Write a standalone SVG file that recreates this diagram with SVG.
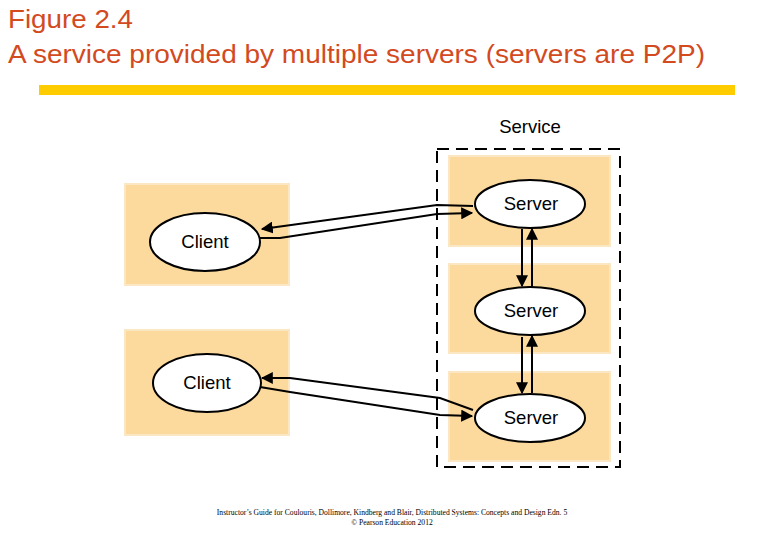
<svg xmlns="http://www.w3.org/2000/svg" width="780" height="540" viewBox="0 0 780 540">
<style>
.t{font-family:"Liberation Sans",Arial,sans-serif;fill:#d24a1e;font-size:26px}
.box{fill:#fcd99c;stroke:#fbe7c4;stroke-width:2}
.el{fill:#fff;stroke:#000;stroke-width:2}
.lb{font-family:"Liberation Sans",Arial,sans-serif;font-size:18.5px;text-anchor:middle}
.c{fill:none;stroke:#000;stroke-width:2}
.f{font-family:"Liberation Serif","Times New Roman",serif;font-size:7.6px;text-anchor:middle}
</style>
<defs><marker id="a" viewBox="0 0 10 10" refX="9" refY="5" markerWidth="6" markerHeight="6" orient="auto"><path d="M0,0L10,5L0,10z"/></marker></defs>
<rect width="780" height="540" fill="#fff"/>
<text class="t" x="8" y="28" textLength="125" lengthAdjust="spacingAndGlyphs">Figure 2.4</text>
<text class="t" x="8" y="63" textLength="697" lengthAdjust="spacingAndGlyphs">A service provided by multiple servers (servers are P2P)</text>
<rect x="39" y="85" width="696" height="10" fill="#ffcc00"/>
<text class="lb" x="530" y="133">Service</text>
<rect x="437" y="149" width="183" height="318" fill="none" stroke="#000" stroke-width="2" stroke-dasharray="12,7"/>
<g id="client1"><rect class="box" x="125" y="184" width="164" height="101"/><ellipse class="el" cx="205" cy="242" rx="55" ry="29"/><text class="lb" x="205" y="248">Client</text></g>
<g id="client2"><rect class="box" x="125" y="330" width="164" height="105"/><ellipse class="el" cx="207" cy="383" rx="54" ry="29"/><text class="lb" x="207" y="389">Client</text></g>
<g id="server1"><rect class="box" x="449" y="156" width="161" height="90"/><ellipse class="el" cx="530" cy="204" rx="55" ry="24"/><text class="lb" x="531" y="210">Server</text></g>
<g id="server2"><rect class="box" x="449" y="264" width="161" height="89"/><ellipse class="el" cx="530" cy="311" rx="55" ry="24"/><text class="lb" x="531" y="317">Server</text></g>
<g id="server3"><rect class="box" x="449" y="372" width="161" height="89"/><ellipse class="el" cx="530" cy="418" rx="55" ry="24"/><text class="lb" x="531" y="424">Server</text></g>
<g id="connectors">
<path class="c" d="M473,206 L437,205 L262,229" marker-end="url(#a)"/>
<path class="c" d="M260,238 L280,238 L437,214 L472,213" marker-end="url(#a)"/>
<path class="c" d="M522,229 L522,286" marker-end="url(#a)"/>
<path class="c" d="M532,287 L532,229" marker-end="url(#a)"/>
<path class="c" d="M522,337 L522,393" marker-end="url(#a)"/>
<path class="c" d="M532,393 L532,336" marker-end="url(#a)"/>
<path class="c" d="M473,410 L440,398 L290,378 L262,378" marker-end="url(#a)"/>
<path class="c" d="M260,387 L290,392 L440,415 L472,416" marker-end="url(#a)"/>
</g>
<text class="f" x="392" y="515">Instructor’s Guide for  Coulouris, Dollimore, Kindberg and Blair,  Distributed Systems: Concepts and Design   Edn. 5</text>
<text class="f" x="392" y="525">©  Pearson Education 2012</text>
</svg>
